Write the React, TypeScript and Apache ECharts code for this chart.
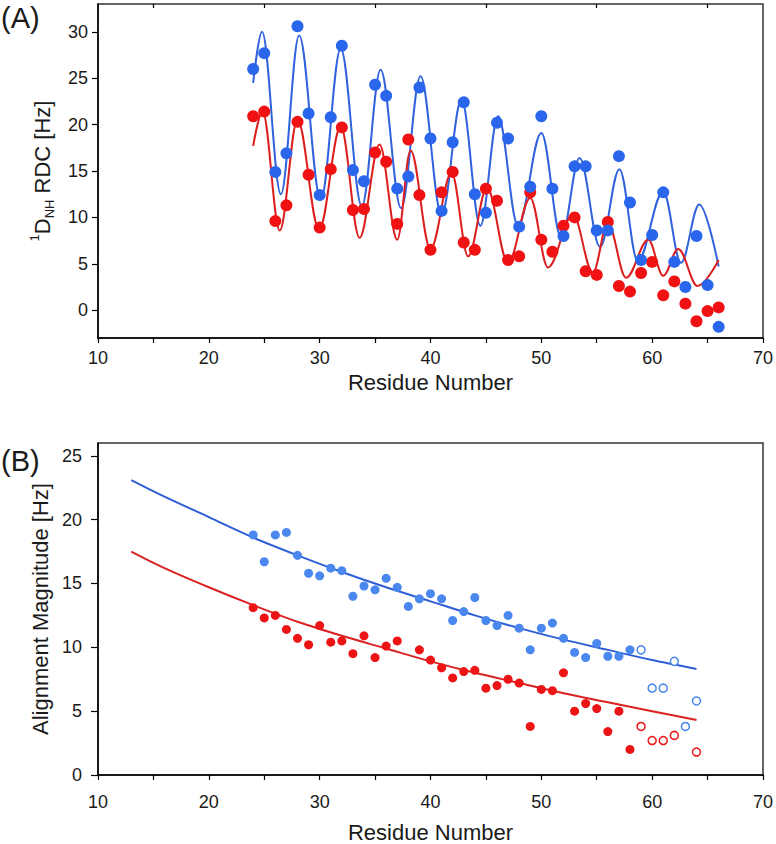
import React, { useEffect, useRef } from 'react';
import * as echarts from 'echarts';

const FONT = '"Liberation Sans", Arial, Helvetica, sans-serif';

// ---------- Panel A: 1D_NH RDC ----------
const residuesA = [24, 25, 26, 27, 28, 29, 30, 31, 32, 33, 34, 35, 36, 37, 38, 39, 40, 41, 42, 43, 44, 45,
  46, 47, 48, 49, 50, 51, 52, 53, 54, 55, 56, 57, 58, 59, 60, 61, 62, 63, 64, 65, 66];
const rdcBlue = [26.0, 27.7, 14.9, 16.9, 30.6, 21.2, 12.4, 20.8, 28.5, 15.1, 13.9, 24.3, 23.1, 13.1, 14.4,
  24.0, 18.5, 10.7, 18.1, 22.4, 12.5, 10.5, 20.2, 18.5, 9.0, 13.3, 20.9, 13.1, 8.0, 15.5, 15.5, 8.6, 8.6,
  16.6, 11.6, 5.4, 8.1, 12.7, 5.2, 2.5, 8.0, 2.7, -1.8];
const rdcRed = [20.9, 21.4, 9.6, 11.3, 20.3, 14.6, 8.9, 15.2, 19.7, 10.8, 10.9, 17.0, 16.0, 9.3, 18.4,
  12.4, 6.5, 12.7, 14.9, 7.3, 6.5, 13.1, 11.8, 5.4, 5.8, 12.7, 7.6, 6.3, 9.1, 10.0, 4.2, 3.8, 9.5, 2.6,
  2.0, 4.0, 5.2, 1.6, 3.1, 0.7, -1.2, -0.1, 0.3];
// fitted curves, read at their turning points
const rdcFitBlue = [
  [24.0, 24.5], [24.8, 30.0], [26.5, 12.5], [28.15, 29.6], [30.1, 11.9], [31.9, 28.2], [33.8, 11.2],
  [35.5, 25.9], [37.35, 11.0], [39.1, 25.2], [41.0, 10.3], [42.8, 22.7], [44.5, 9.1], [46.1, 20.9],
  [47.9, 9.1], [50.0, 19.1], [51.8, 7.8], [53.45, 16.4], [55.3, 6.8], [57.05, 15.2], [58.7, 5.3],
  [61.0, 12.8], [62.6, 5.1], [64.25, 11.4], [66.0, 4.7],
];
const rdcFitRed = [
  [24.0, 17.7], [24.85, 21.4], [26.4, 8.6], [28.0, 20.5], [29.95, 8.7], [31.9, 19.8], [33.6, 7.8],
  [35.4, 17.85], [37.0, 7.6], [38.2, 17.2], [40.0, 6.6], [41.9, 14.8], [43.4, 5.8], [45.1, 13.2],
  [47.0, 5.1], [49.0, 12.1], [50.6, 4.6], [52.85, 10.3], [54.65, 4.05], [56.0, 9.4], [57.65, 3.5],
  [59.65, 7.6], [61.0, 3.7], [62.35, 6.6], [64.1, 2.6], [66.0, 5.4],
];

// ---------- Panel B: Alignment magnitude ----------
const magBlueRes = [24, 25, 26, 27, 28, 29, 30, 31, 32, 33, 34, 35, 36, 37, 38, 39, 40, 41, 42, 43, 44, 45,
  46, 47, 48, 49, 50, 51, 52, 53, 54, 55, 56, 57, 58];
const magBlue = [18.8, 16.7, 18.8, 19.0, 17.2, 15.8, 15.6, 16.2, 16.0, 14.0, 14.8, 14.5, 15.4, 14.7, 13.2,
  13.8, 14.2, 13.8, 12.1, 12.8, 13.9, 12.1, 11.7, 12.5, 11.5, 9.8, 11.5, 11.9, 10.7, 9.6, 9.2, 10.3, 9.3,
  9.3, 9.8];
const magBlueOpenRes = [59, 60, 61, 62, 63, 64];
const magBlueOpen = [9.8, 6.8, 6.8, 8.9, 3.8, 5.8];
const magRedRes = [24, 25, 26, 27, 28, 29, 30, 31, 32, 33, 34, 35, 36, 37, 39, 40, 41, 42, 43, 44, 45,
  46, 47, 48, 49, 50, 51, 52, 53, 54, 55, 56, 57, 58];
const magRed = [13.1, 12.3, 12.5, 11.4, 10.7, 10.2, 11.7, 10.4, 10.5, 9.5, 10.9, 9.2, 10.1, 10.5, 9.8,
  9.0, 8.4, 7.6, 8.1, 8.2, 6.8, 7.0, 7.5, 7.2, 3.8, 6.7, 6.6, 8.0, 5.0, 5.6, 5.2, 3.4, 5.0, 2.0];
const magRedOpenRes = [59, 60, 61, 62, 64];
const magRedOpen = [3.8, 2.7, 2.7, 3.1, 1.8];
const magFitBlue = [
  [13, 23.1], [16, 21.8], [20, 20.2], [24, 18.6], [28, 17.2], [32, 15.9], [36, 14.7], [40, 13.6],
  [44, 12.5], [48, 11.5], [52, 10.6], [56, 9.8], [60, 9.0], [64, 8.3],
];
const magFitRed = [
  [13, 17.5], [16, 16.2], [20, 14.7], [24, 13.3], [28, 12.0], [32, 10.9], [36, 9.9], [40, 8.9],
  [44, 8.0], [48, 7.2], [52, 6.4], [56, 5.7], [60, 5.0], [64, 4.3],
];

// ---------- Ticks ----------
const xLabelValues = [10, 20, 30, 40, 50, 60, 70];
const xTickValues = [10, 15, 20, 25, 30, 35, 40, 45, 50, 55, 60, 65, 70];
const xTopTickValuesA = [15, 25, 35, 45, 55, 65];
const yTickValuesA = [0, 5, 10, 15, 20, 25, 30];
const yTickValuesB = [0, 5, 10, 15, 20, 25];

const zip = (xs: number[], ys: number[]) => xs.map((x, i) => [x, ys[i]]);

const BLUE_A = '#2A66EC';
const BLUE_A_LINE = '#2F62DC';
const RED_A = '#F01212';
const RED_A_LINE = '#DD1E1E';
const BLUE_B = '#4A87EE';
const BLUE_B_LINE = '#2E5FD6';
const RED_B = '#EC1414';
const RED_B_LINE = '#DA2222';

export default function App() {
  const ref = useRef<HTMLDivElement>(null);

  useEffect(() => {
    if (!ref.current) return;
    const chart = echarts.init(ref.current, undefined, { renderer: 'svg' });

    const axisLine = { show: true, onZero: false, lineStyle: { color: '#000', width: 1.5 } };
    const tickStyle = { color: '#000', width: 1.2 };
    const labelStyle = { fontSize: 18, color: '#1a1a1a', fontFamily: FONT };

    const option: any = {
      animation: false,
      backgroundColor: '#fff',
      textStyle: { fontFamily: FONT },
      grid: [
        { left: 98, top: 4, width: 669, height: 334, show: true, borderColor: '#333', borderWidth: 1.5, backgroundColor: 'transparent' },
        { left: 98, top: 443, width: 669, height: 334, show: true, borderColor: '#333', borderWidth: 1.5, backgroundColor: 'transparent' },
      ],
      xAxis: [
        {
          gridIndex: 0, type: 'value', min: 10, max: 70, position: 'bottom',
          axisLine, splitLine: { show: false },
          axisTick: { show: true, customValues: xTickValues, length: 5, lineStyle: tickStyle },
          axisLabel: { customValues: xLabelValues, margin: 11, ...labelStyle },
          name: 'Residue Number', nameLocation: 'middle', nameGap: 33,
          nameTextStyle: { fontSize: 22, color: '#1a1a1a', fontFamily: FONT },
        },
        {
          gridIndex: 0, type: 'value', min: 10, max: 70, position: 'top',
          axisLine: { show: false, onZero: false }, splitLine: { show: false },
          axisTick: { show: true, inside: true, customValues: xTopTickValuesA, length: 4, lineStyle: tickStyle },
          axisLabel: { show: false },
        },
        {
          gridIndex: 1, type: 'value', min: 10, max: 70, position: 'bottom',
          axisLine, splitLine: { show: false },
          axisTick: { show: true, customValues: xTickValues, length: 5, lineStyle: tickStyle },
          axisLabel: { customValues: xLabelValues, margin: 18, ...labelStyle },
          name: 'Residue Number', nameLocation: 'middle', nameGap: 46,
          nameTextStyle: { fontSize: 22, color: '#1a1a1a', fontFamily: FONT },
        },
      ],
      yAxis: [
        {
          gridIndex: 0, type: 'value', min: -3, max: 33,
          axisLine, splitLine: { show: false },
          axisTick: { show: true, customValues: yTickValuesA, length: 6, lineStyle: tickStyle },
          axisLabel: { customValues: yTickValuesA, margin: 10, ...labelStyle },
          name: '{sup|1}{m|D}{sub|NH}{m| RDC [Hz]}',
          nameLocation: 'middle', nameGap: 42, nameRotate: 90,
          nameTextStyle: {
            fontSize: 22, color: '#1a1a1a', fontFamily: FONT,
            rich: {
              m: { fontSize: 22, color: '#1a1a1a', fontFamily: FONT, lineHeight: 28 },
              sup: { fontSize: 13, color: '#1a1a1a', fontFamily: FONT, verticalAlign: 'top', lineHeight: 28 },
              sub: { fontSize: 13, color: '#1a1a1a', fontFamily: FONT, verticalAlign: 'bottom', lineHeight: 28 },
            },
          },
        },
        {
          gridIndex: 1, type: 'value', min: 0, max: 26,
          axisLine, splitLine: { show: false },
          axisTick: { show: true, customValues: yTickValuesB, length: 7, lineStyle: tickStyle },
          axisLabel: { customValues: yTickValuesB, margin: 16, ...labelStyle },
          name: 'Alignment Magnitude [Hz]',
          nameLocation: 'middle', nameGap: 42, nameRotate: 90,
          nameTextStyle: { fontSize: 22, color: '#1a1a1a', fontFamily: FONT },
        },
      ],
      graphic: [
        { type: 'text', left: 1, top: 3, style: { text: '(A)', fontSize: 29, fill: '#1a1a1a', fontFamily: FONT } },
        { type: 'text', left: 1, top: 446, style: { text: '(B)', fontSize: 29, fill: '#1a1a1a', fontFamily: FONT } },
      ],
      series: [
        {
          type: 'line', xAxisIndex: 0, yAxisIndex: 0, data: rdcFitBlue, smooth: 0.36, smoothMonotone: 'x',
          showSymbol: false, lineStyle: { color: BLUE_A_LINE, width: 2 }, z: 2,
        },
        {
          type: 'line', xAxisIndex: 0, yAxisIndex: 0, data: rdcFitRed, smooth: 0.36, smoothMonotone: 'x',
          showSymbol: false, lineStyle: { color: RED_A_LINE, width: 2 }, z: 2,
        },
        {
          type: 'scatter', xAxisIndex: 0, yAxisIndex: 0, data: zip(residuesA, rdcRed), symbolSize: 12,
          itemStyle: { color: RED_A, opacity: 1 }, z: 3,
        },
        {
          type: 'scatter', xAxisIndex: 0, yAxisIndex: 0, data: zip(residuesA, rdcBlue), symbolSize: 12,
          itemStyle: { color: BLUE_A, opacity: 1 }, z: 3,
        },
        {
          type: 'line', xAxisIndex: 2, yAxisIndex: 1, data: magFitBlue, smooth: 0.3,
          showSymbol: false, lineStyle: { color: BLUE_B_LINE, width: 2 }, z: 2,
        },
        {
          type: 'line', xAxisIndex: 2, yAxisIndex: 1, data: magFitRed, smooth: 0.3,
          showSymbol: false, lineStyle: { color: RED_B_LINE, width: 2 }, z: 2,
        },
        {
          type: 'scatter', xAxisIndex: 2, yAxisIndex: 1, data: zip(magBlueRes, magBlue), symbolSize: 9,
          itemStyle: { color: BLUE_B, opacity: 1 }, z: 3,
        },
        {
          type: 'scatter', xAxisIndex: 2, yAxisIndex: 1, data: zip(magRedRes, magRed), symbolSize: 9,
          itemStyle: { color: RED_B, opacity: 1 }, z: 3,
        },
        {
          type: 'scatter', xAxisIndex: 2, yAxisIndex: 1, data: zip(magBlueOpenRes, magBlueOpen), symbolSize: 8,
          itemStyle: { color: '#fff', borderColor: BLUE_B, borderWidth: 1.5, opacity: 1 }, z: 3,
        },
        {
          type: 'scatter', xAxisIndex: 2, yAxisIndex: 1, data: zip(magRedOpenRes, magRedOpen), symbolSize: 8,
          itemStyle: { color: '#fff', borderColor: RED_B, borderWidth: 1.5, opacity: 1 }, z: 3,
        },
      ],
    };

    chart.setOption(option);
    return () => chart.dispose();
  }, []);

  return (
    <div
      ref={ref}
      style={{ position: 'fixed', left: 0, top: 0, width: 776, height: 844, background: '#fff' }}
    />
  );
}
